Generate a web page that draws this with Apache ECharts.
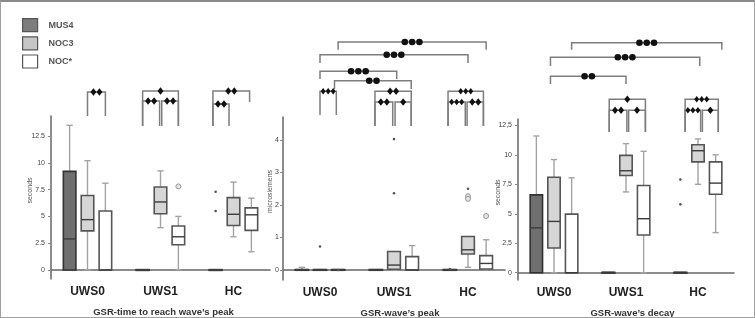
<!DOCTYPE html>
<html><head><meta charset="utf-8">
<script src="https://cdn.jsdelivr.net/npm/echarts@6/dist/echarts.min.js"></script>
<style>
html,body{margin:0;padding:0;background:#fff;}
#c{width:755px;height:318px;box-sizing:border-box;border:1px solid #a0a0a0;border-top:2px solid #8a8a8a;}
</style>
</head><body><div id="c"></div>
<script>
// ---------- data ----------
const categories = ['UWS0', 'UWS1', 'HC'];
const groupNames = ['MUS4', 'NOC3', 'NOC*'];
const panelTitles = ['GSR-time to reach wave\u2019s peak', 'GSR-wave\u2019s peak', 'GSR-wave\u2019s decay'];
const axisNames = ['seconds', 'microsiemens', 'seconds'];

// box stats per category: [min, Q1, median, Q3, max]
const timeToPeakMUS4 = [[0, 0, 2.9, 9.2, 13.5], [0, 0, 0, 0, 0], [0, 0, 0, 0, 0]];
const timeToPeakNOC3 = [[0, 3.65, 4.7, 6.95, 10.2], [3.95, 5.25, 6.35, 7.75, 9.25], [3.1, 4.15, 5.2, 6.75, 8.2]];
const timeToPeakNOCstar = [[0, 0, 0, 5.5, 8.1], [0, 2.35, 3.1, 4.1, 5.0], [1.7, 3.7, 5.15, 5.8, 6.7]];

const wavePeakMUS4 = [[0, 0, 0, 0, 0.08], [0, 0, 0, 0, 0], [0, 0, 0, 0, 0]];
const wavePeakNOC3 = [[0, 0, 0, 0, 0], [0, 0.02, 0.15, 0.57, 0.57], [0.08, 0.49, 0.62, 1.03, 1.03]];
const wavePeakNOCstar = [[0, 0, 0, 0, 0], [0, 0, 0, 0.41, 0.75], [0.01, 0.03, 0.2, 0.44, 0.93]];

const decayMUS4 = [[0, 0, 3.8, 6.6, 11.6], [0, 0, 0, 0, 0], [0, 0, 0, 0, 0]];
const decayNOC3 = [[0, 2.1, 4.35, 8.1, 9.6], [6.85, 8.25, 8.65, 9.95, 10.95], [7.5, 9.4, 10.35, 10.85, 11.35]];
const decayNOCstar = [[0, 0, 0, 4.97, 8.05], [0, 3.2, 4.58, 7.4, 10.3], [3.4, 6.65, 7.6, 9.4, 10.0]];

// outliers: [categoryIndex, value, groupIndex, kind(0 dot, 1 circle)]
const timeToPeakOutliers = [[1, 7.8, 2, 1], [2, 7.3, 0, 0], [2, 5.5, 0, 0]];
const wavePeakOutliers = [[0, 0.72, 1, 0], [0, 0, 2, 0], [1, 4.03, 1, 0], [1, 2.36, 1, 0], [2, 0.03, 0, 0],
  [2, 2.5, 1, 0], [2, 2.27, 1, 1], [2, 2.19, 1, 1], [2, 1.66, 2, 1]];
const decayOutliers = [[2, 7.9, 0, 0], [2, 5.8, 0, 0]];

// tick labels
const timeToPeakTicks = [0, 2.5, 5, 7.5, 10, 12.5];
const wavePeakTicks = [0, 1, 2, 3, 4];
const decayTicks = [0, 2.5, 5, 7.5, 10, 12.5];
const decimalSeparators = ['.', '.', ','];

// significance brackets: [catA, posA, catB, posB, barLevel, legEndA, legEndB, markerCount, markerKind(0 diamond,1 circle,2 small diamond)]
const timeToPeakBrackets = [
  [0, 0, 0, 1, 4.0, 1.6, 1.6, 2, 0],
  [1, -1, 1, 1, 4.1, 0.6, 0.6, 1, 0],
  [1, -1, 1, -0.05, 3.1, 0.6, 0.6, 2, 0],
  [1, 0.07, 1, 1, 3.1, 0.6, 0.6, 2, 0],
  [2, -1.15, 2, 0.9, 4.1, 0.6, 3.0, 2, 0],
  [2, -1.15, 2, -0.25, 2.8, 0.6, 0.6, 2, 0]
];
const wavePeakBrackets = [
  [0, 1, 2, 1, 9.0, 8.23, 8.23, 3, 1],
  [0, 0, 2, 0, 7.73, 6.9, 6.9, 3, 1],
  [0, 0, 1, 0.15, 6.07, 5.3, 5.3, 3, 1],
  [0, 0.8, 1, 0.95, 5.13, 4.3, 4.3, 2, 1],
  [0, 0, 0, 0.9, 4.07, 1.7, 1.7, 3, 2],
  [1, -1.05, 1, 0.95, 4.07, 0.6, 0.6, 2, 0],
  [1, -1.05, 1, -0.07, 3.0, 0.6, 0.6, 2, 0],
  [1, 0.06, 1, 0.95, 3.0, 0.6, 0.6, 1, 0],
  [2, -1.1, 2, 0.85, 4.07, 0.6, 0.6, 3, 2],
  [2, -1.1, 2, -0.15, 3.0, 0.6, 0.6, 3, 2],
  [2, -0.05, 2, 0.85, 3.0, 0.6, 0.6, 2, 0]
];
const decayBrackets = [
  [0, 1, 2, 1.35, 8.93, 8.23, 8.23, 3, 1],
  [0, -0.2, 2, 0.1, 7.47, 6.6, 6.6, 3, 1],
  [0, -0.2, 1, 0, 5.57, 4.8, 4.8, 2, 1],
  [1, -0.95, 1, 1.1, 3.27, 0, 0, 1, 0],
  [1, -0.95, 1, 0.05, 2.17, 0, 0, 2, 0],
  [1, 0.15, 1, 1.1, 2.17, 0, 0, 1, 0],
  [2, -0.73, 2, 1.15, 3.27, 0, 0, 3, 2],
  [2, -0.73, 2, 0.15, 2.17, 0, 0, 3, 2],
  [2, 0.25, 2, 1.15, 2.17, 0, 0, 1, 0]
];

// ---------- styling / layout ----------
const panels = [
  { boxes: [timeToPeakMUS4, timeToPeakNOC3, timeToPeakNOCstar], out: timeToPeakOutliers, ticks: timeToPeakTicks, br: timeToPeakBrackets,
    grid: { left: 50, top: 114, width: 219, height: 163 }, min: -0.84, max: 14.37, nameGap: 17, labelMargin: 6, titlePad: 6 },
  { boxes: [wavePeakMUS4, wavePeakNOC3, wavePeakNOCstar], out: wavePeakOutliers, ticks: wavePeakTicks, br: wavePeakBrackets,
    grid: { left: 282, top: 115, width: 222, height: 163 }, min: -0.31, max: 4.71, nameGap: 9, labelMargin: 4, titlePad: 12 },
  { boxes: [decayMUS4, decayNOC3, decayNOCstar], out: decayOutliers, ticks: decayTicks, br: decayBrackets,
    grid: { left: 517, top: 117, width: 216, height: 161 }, min: -0.62, max: 13.04, nameGap: 16, labelMargin: 6, titlePad: 13 }
];
const fills = ['#6f6f6f', '#d6d6d6', '#ffffff'];
const borders = ['#333333', '#555555', '#555555'];
const legendFills = ['#7d7d7d', '#c6c6c6', '#ffffff'];
const SLOT = 0.245, BOXW = 0.172;
const FONT = 'Liberation Sans, Arial, sans-serif';

function boxRenderer(g) {
  return function (params, api) {
    const cat = api.value(0);
    const band = api.size([1, 0])[0];
    const cx = api.coord([cat, 0])[0] + (g - 1) * band * SLOT;
    const y = v => api.coord([cat, v])[1];
    const yMin = y(api.value(1)), yQ1 = y(api.value(2)), yMed = y(api.value(3)), yQ3 = y(api.value(4)), yMax = y(api.value(5));
    const hw = band * BOXW / 2, cw = hw * 0.5;
    const wStyle = { stroke: '#a3a3a3', lineWidth: 1.4 };
    const children = [];
    if (yMax < yQ3 - 0.5) {
      children.push({ type: 'line', shape: { x1: cx, y1: yQ3, x2: cx, y2: yMax }, style: wStyle });
      children.push({ type: 'line', shape: { x1: cx - cw, y1: yMax, x2: cx + cw, y2: yMax }, style: wStyle });
    }
    if (yMin > yQ1 + 0.5) {
      children.push({ type: 'line', shape: { x1: cx, y1: yQ1, x2: cx, y2: yMin }, style: wStyle });
      children.push({ type: 'line', shape: { x1: cx - cw, y1: yMin, x2: cx + cw, y2: yMin }, style: wStyle });
    }
    const flat = yQ1 - yQ3 < 0.5;
    children.push({ type: 'rect', shape: { x: cx - hw, y: yQ3, width: hw * 2, height: Math.max(yQ1 - yQ3, 0.01) },
      style: { fill: fills[g], stroke: flat ? '#3a3a3a' : borders[g], lineWidth: flat ? 2.2 : 1.6 } });
    children.push({ type: 'line', shape: { x1: cx - hw, y1: yMed, x2: cx + hw, y2: yMed }, style: { stroke: '#3c3c3c', lineWidth: flat ? 2.2 : 1.4 } });
    return { type: 'group', children };
  };
}

function outlierRenderer(params, api) {
  const cat = api.value(0);
  const band = api.size([1, 0])[0];
  const cx = api.coord([cat, 0])[0] + (api.value(2) - 1) * band * SLOT;
  const cy = api.coord([cat, api.value(1)])[1];
  if (api.value(3) === 1) {
    return { type: 'circle', shape: { cx, cy, r: 2.5 }, style: { fill: '#e4e4e4', stroke: '#999', lineWidth: 1 } };
  }
  return { type: 'circle', shape: { cx, cy, r: 1.3 }, style: { fill: '#555' } };
}

function bracketRenderer(params, api) {
  const band = api.size([1, 0])[0];
  const x = (c, s) => api.coord([c, 0])[0] + s * band * SLOT;
  const yy = v => api.coord([0, v])[1];
  const x1 = x(api.value(0), api.value(1)), x2 = x(api.value(2), api.value(3));
  const yt = yy(api.value(4)), ya = yy(api.value(5)), yb = yy(api.value(6));
  const n = api.value(7), kind = api.value(8);
  const children = [{ type: 'polyline', shape: { points: [[x1, ya], [x1, yt], [x2, yt], [x2, yb]] },
    style: { stroke: '#7e7e7e', lineWidth: 1.5, fill: null } }];
  const mx = (x1 + x2) / 2;
  const sp = kind === 1 ? 7.3 : (kind === 2 ? 5 : 6);
  for (let i = 0; i < n; i++) {
    const cx = mx + (i - (n - 1) / 2) * sp;
    if (kind === 1) {
      children.push({ type: 'circle', shape: { cx, cy: yt, r: 3.3 }, style: { fill: '#111' } });
    } else {
      const w = kind === 2 ? 5 : 6, h = kind === 2 ? 6.5 : 7.5;
      children.push({ type: 'polygon', shape: { points: [[cx, yt - h / 2], [cx + w / 2, yt], [cx, yt + h / 2], [cx - w / 2, yt]] }, style: { fill: '#111' } });
    }
  }
  return { type: 'group', children };
}

const grids = [], xAxes = [], yAxes = [], series = [];
panels.forEach((p, i) => {
  grids.push(Object.assign({ outerBoundsMode: 'none', containLabel: false }, p.grid));
  grids.push({ outerBoundsMode: 'none', containLabel: false, left: p.grid.left, width: p.grid.width, top: 30, height: 100 });
  const sep = decimalSeparators[i];
  xAxes.push({
    type: 'category', gridIndex: 2 * i, data: categories,
    axisLine: { lineStyle: { color: '#666', width: 1.5 } }, axisTick: { show: false },
    axisLabel: { color: '#222', fontSize: 12, fontWeight: 'bold', fontFamily: FONT, margin: 7 },
    name: panelTitles[i], nameLocation: 'middle', nameGap: 28, nameMoveOverlap: false,
    nameTextStyle: { color: '#333', fontSize: 9.5, fontWeight: 'bold', fontFamily: FONT, padding: [0, 0, 0, p.titlePad] }
  });
  xAxes.push({ type: 'category', gridIndex: 2 * i + 1, data: categories, show: false });
  yAxes.push({
    type: 'value', gridIndex: 2 * i, min: p.min, max: p.max,
    axisLine: { show: true, lineStyle: { color: '#666', width: 1.5 } },
    axisTick: { show: true, length: 3, customValues: p.ticks, lineStyle: { color: '#888' } },
    axisLabel: { customValues: p.ticks, color: '#444', fontSize: 7, fontFamily: FONT, margin: p.labelMargin,
      formatter: v => String(v).replace('.', sep) },
    splitLine: { show: false },
    name: axisNames[i], nameLocation: 'middle', nameGap: p.nameGap, nameRotate: 90, nameMoveOverlap: false,
    nameTextStyle: { color: '#555', fontSize: 7, fontFamily: FONT, padding: [0, 0, 0, 14] }
  });
  yAxes.push({ type: 'value', gridIndex: 2 * i + 1, min: 0, max: 10, show: false });
  p.boxes.forEach((arr, g) => {
    series.push({
      type: 'custom', name: groupNames[g], xAxisIndex: 2 * i, yAxisIndex: 2 * i,
      renderItem: boxRenderer(g), itemStyle: { color: fills[g] },
      encode: { x: 0, y: [1, 2, 3, 4, 5] },
      data: arr.map((q, c) => [c].concat(q)), z: 3
    });
  });
  series.push({
    type: 'custom', xAxisIndex: 2 * i, yAxisIndex: 2 * i, renderItem: outlierRenderer,
    encode: { x: 0, y: 1 }, data: p.out, z: 4
  });
  series.push({
    type: 'custom', xAxisIndex: 2 * i + 1, yAxisIndex: 2 * i + 1, renderItem: bracketRenderer,
    encode: { x: 0, y: 4 }, data: p.br, z: 2
  });
});

const chart = echarts.init(document.getElementById('c'), null, { renderer: 'canvas' });
chart.setOption({
  backgroundColor: '#fff',
  animation: false,
  legend: {
    orient: 'vertical', left: 21, top: 16, padding: 0, itemWidth: 15, itemHeight: 13, itemGap: 4, icon: 'rect',
    textStyle: { fontSize: 9, fontWeight: 'bold', color: '#555', fontFamily: FONT, padding: [0, 0, 0, 6] },
    data: groupNames.map((n, g) => ({ name: n, itemStyle: { color: legendFills[g], borderColor: '#555', borderWidth: 1.2 } })),
    selectedMode: false
  },
  grid: grids, xAxis: xAxes, yAxis: yAxes, series: series
});
</script>
</body></html>
